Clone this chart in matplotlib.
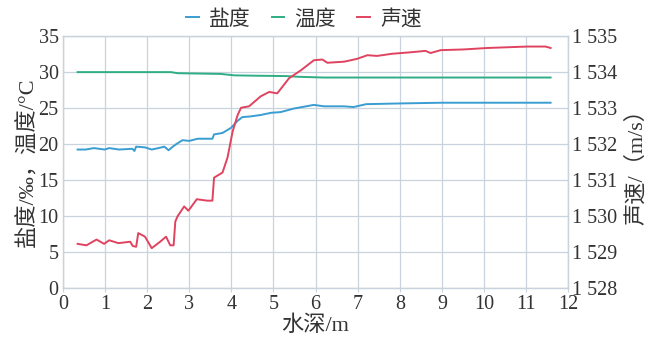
import matplotlib
matplotlib.use("Agg")
import matplotlib.pyplot as plt
from matplotlib.ticker import FuncFormatter

plt.rcParams['font.family'] = ['Liberation Serif', 'Noto Sans CJK SC', 'DejaVu Sans']

# salinity (‰)
sal_depth = [0.35, 0.54, 0.74, 0.99, 1.1, 1.33, 1.65, 1.7, 1.74, 1.95, 2.11, 2.27, 2.41,
             2.51, 2.59, 2.68, 2.84, 3.0, 3.2, 3.55, 3.59, 3.79, 3.99, 4.15, 4.26, 4.46,
             4.7, 4.94, 5.17, 5.49, 5.96, 6.2, 6.68, 6.9, 7.2, 8.0, 9.0, 11.58]
salinity = [19.2, 19.2, 19.4, 19.2, 19.4, 19.2, 19.3, 19.0, 19.6, 19.5, 19.2, 19.4, 19.6,
            19.1, 19.5, 19.9, 20.5, 20.4, 20.7, 20.7, 21.3, 21.5, 22.2, 23.2, 23.7, 23.8,
            24.0, 24.3, 24.4, 24.9, 25.4, 25.2, 25.2, 25.1, 25.5, 25.6, 25.7, 25.7]

# temperature (°C)
temp_depth = [0.35, 2.57, 2.72, 3.75, 4.07, 4.6, 5.3, 5.6, 6.2, 11.58]
temperature = [29.95, 29.95, 29.8, 29.7, 29.5, 29.45, 29.4, 29.3, 29.2, 29.2]

# sound speed (m/s)
spd_depth = [0.35, 0.56, 0.8, 0.98, 1.1, 1.32, 1.6, 1.66, 1.74, 1.79, 1.95, 2.11, 2.31,
             2.45, 2.55, 2.63, 2.67, 2.72, 2.88, 2.98, 3.18, 3.43, 3.55, 3.59, 3.79, 3.91,
             4.03, 4.15, 4.23, 4.42, 4.7, 4.9, 5.09, 5.37, 5.65, 5.96, 6.16, 6.28, 6.68,
             6.99, 7.23, 7.46, 7.82, 8.25, 8.61, 8.73, 8.97, 9.52, 10.07, 11.02, 11.46, 11.58]
speed = [1529.22, 1529.18, 1529.34, 1529.22, 1529.32, 1529.24, 1529.28, 1529.16, 1529.14,
         1529.52, 1529.42, 1529.10, 1529.28, 1529.42, 1529.18, 1529.18, 1529.84, 1529.98,
         1530.26, 1530.14, 1530.46, 1530.42, 1530.42, 1531.06, 1531.20, 1531.62, 1532.34,
         1532.80, 1533.00, 1533.04, 1533.32, 1533.44, 1533.40, 1533.82, 1534.04, 1534.32,
         1534.34, 1534.25, 1534.28, 1534.36, 1534.46, 1534.44, 1534.50, 1534.54, 1534.58,
         1534.52, 1534.60, 1534.62, 1534.66, 1534.70, 1534.70, 1534.66]

blue = '#3a9dd2'
green = '#2fae85'
red = '#e0435f'
grid_c = '#c9d3de'
txt_c = '#333333'


def main():
    fig, ax = plt.subplots(figsize=(6.48, 3.54), dpi=100)
    fig.subplots_adjust(left=0.097, right=0.877, bottom=0.187, top=0.899)
    ax2 = ax.twinx()

    l1, = ax.plot(sal_depth, salinity, color=blue, lw=1.4)
    l2, = ax.plot(temp_depth, temperature, color=green, lw=1.4)
    l3, = ax2.plot(spd_depth, speed, color=red, lw=1.4)

    ax.set_xlim(0, 12)
    ax.set_ylim(0, 35)
    ax2.set_ylim(1528, 1535)
    ax.set_xticks(range(0, 13))
    ax.set_yticks(range(0, 36, 5))
    ax2.set_yticks(range(1528, 1536))
    ax2.yaxis.set_major_formatter(FuncFormatter(lambda v, p: f"{int(v) // 1000} {int(v) % 1000:03d}"))

    ax.grid(True, color=grid_c, lw=0.9)
    ax.set_axisbelow(True)
    for a in (ax, ax2):
        for s in a.spines.values():
            s.set_color(grid_c)
            s.set_linewidth(0.9)
    ax.tick_params(axis='x', length=3, color=grid_c, labelsize=14.5, pad=2, labelcolor=txt_c)
    ax.tick_params(axis='y', length=0, labelsize=14.5, pad=3, labelcolor=txt_c)
    ax2.tick_params(axis='y', length=0, labelsize=14.5, pad=3, labelcolor=txt_c)

    ax.set_xlabel('水深/m', fontsize=16, color=txt_c, labelpad=1)
    ax.set_ylabel('盐度/‰，温度/°C', fontsize=16, color=txt_c, labelpad=0)
    ax2.set_ylabel('声速/（m/s）', fontsize=16, color=txt_c, labelpad=6)

    fig.legend([l1, l2, l3], ['盐度', '温度', '声速'], loc='upper center',
               bbox_to_anchor=(0.469, 1.025), ncol=3, frameon=False, fontsize=15,
               handlelength=0.6, handletextpad=0.5, columnspacing=1.0,
               labelcolor=txt_c)

    fig.savefig('out.png', dpi=100)


if __name__ == '__main__':
    main()
